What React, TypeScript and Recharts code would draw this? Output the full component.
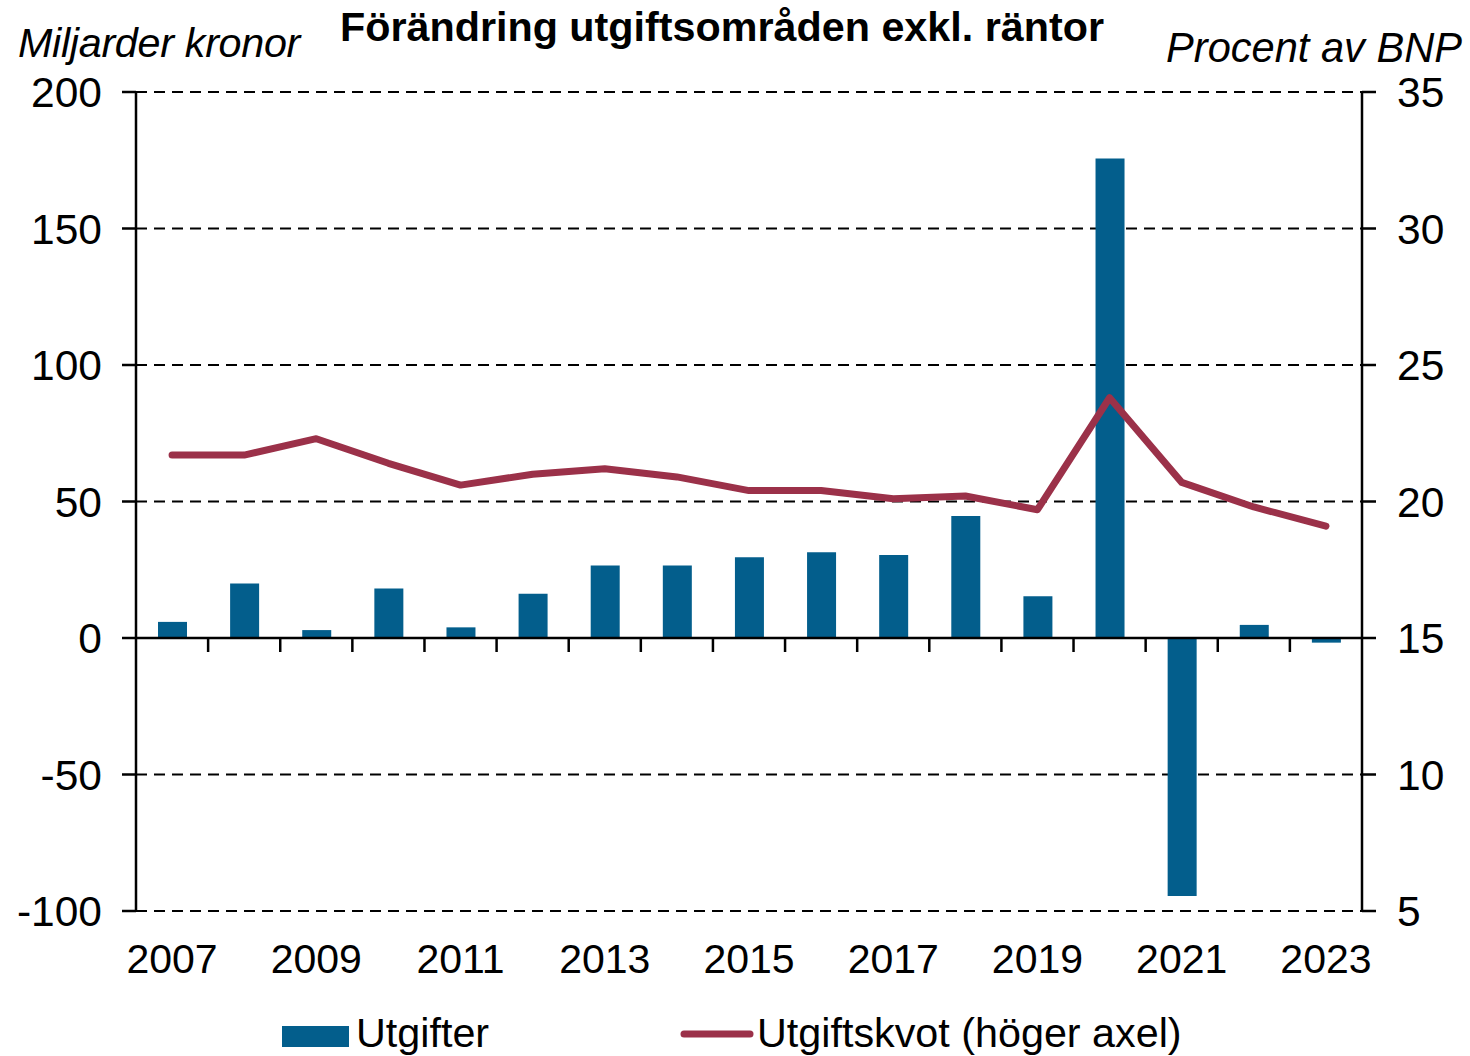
import React from 'react'
import { ComposedChart, Bar, Line, XAxis, YAxis, CartesianGrid, ReferenceLine } from 'recharts'

const years = [
  '2007', '2008', '2009', '2010', '2011', '2012', '2013', '2014', '2015',
  '2016', '2017', '2018', '2019', '2020', '2021', '2022', '2023',
]
// Miljarder kronor (vänster axel)
const utgifter = [5.9, 20.0, 2.9, 18.1, 3.9, 16.2, 26.6, 26.6, 29.6, 31.4, 30.4, 44.7, 15.3, 175.6, -94.5, 4.8, -1.7]
// Procent av BNP (höger axel)
const utgiftskvot = [21.7, 21.7, 22.3, 21.4, 20.6, 21.0, 21.2, 20.9, 20.4, 20.4, 20.1, 20.2, 19.7, 23.8, 20.7, 19.8, 19.1]

const leftTicks = [-100, -50, 0, 50, 100, 150, 200]
const rightTicks = [5, 10, 15, 20, 25, 30, 35]

const BLUE = '#035e8c'
const RED = '#9b3149'
const FONT = '"Liberation Sans", Arial, sans-serif'

const data = years.map((y, i) => ({ year: y, Utgifter: utgifter[i], Utgiftskvot: utgiftskvot[i] }))

// x-axeln ligger vid noll, med streck mellan kategorierna
function ZeroAxis(props: any) {
  const { x1, y1, x2, y2 } = props
  const n = years.length
  const step = (x2 - x1) / n
  const marks = Array.from({ length: n - 1 }, (_, i) => x1 + (i + 1) * step)
  return (
    <g>
      <line x1={x1} y1={y1} x2={x2} y2={y2} stroke="#000" strokeWidth={2.5} />
      {marks.map((x) => (
        <line key={x} x1={x} x2={x} y1={y1} y2={y1 + 14} stroke="#000" strokeWidth={2.5} />
      ))}
    </g>
  )
}

export default function App() {
  const xTick = { fill: '#000', fontSize: 41, fontFamily: FONT }
  const yTick = { fill: '#000', fontSize: 42.5, fontFamily: FONT }
  return (
    <div style={{ position: 'absolute', left: 0, top: 0, width: 1470, height: 1056, background: '#fff', fontFamily: FONT }}>
      <div style={{ position: 'absolute', left: 0, width: 1444, top: 7, textAlign: 'center', fontSize: 41.3, fontWeight: 'bold', lineHeight: 1 }}>
        Förändring utgiftsområden exkl. räntor
      </div>
      <div style={{ position: 'absolute', left: 18, top: 23, fontSize: 41.3, fontStyle: 'italic', lineHeight: 1, letterSpacing: -0.3 }}>
        Miljarder kronor
      </div>
      <div style={{ position: 'absolute', right: 8, top: 27, fontSize: 41.6, fontStyle: 'italic', lineHeight: 1 }}>
        Procent av BNP
      </div>

      <ComposedChart
        width={1470}
        height={1056}
        data={data}
        margin={{ top: 92, right: 8, left: 36, bottom: 85 }}
        barSize={29}
      >
        <CartesianGrid
          yAxisId="left"
          vertical={false}
          stroke="#000"
          strokeWidth={2}
          strokeDasharray="11 7"
        />
        <XAxis
          dataKey="year"
          interval={1}
          axisLine={false}
          tickLine={false}
          tickSize={0}
          tickMargin={33}
          height={60}
          tick={xTick}
        />
        <YAxis
          yAxisId="left"
          orientation="left"
          width={100}
          domain={[-100, 200]}
          ticks={leftTicks}
          tick={yTick}
          axisLine={{ stroke: '#000', strokeWidth: 2.5 }}
          tickLine={{ stroke: '#000', strokeWidth: 2.5 }}
          tickSize={14}
          tickMargin={20}
        />
        <YAxis
          yAxisId="right"
          orientation="right"
          width={100}
          domain={[5, 35]}
          ticks={rightTicks}
          tick={yTick}
          axisLine={{ stroke: '#000', strokeWidth: 2.5 }}
          tickLine={{ stroke: '#000', strokeWidth: 2.5 }}
          tickSize={14}
          tickMargin={21}
        />
        <Bar yAxisId="left" dataKey="Utgifter" fill={BLUE} isAnimationActive={false} />
        <ReferenceLine yAxisId="left" y={0} shape={ZeroAxis} />
        <Line
          yAxisId="right"
          dataKey="Utgiftskvot"
          type="linear"
          stroke={RED}
          strokeWidth={7}
          strokeLinecap="round"
          strokeLinejoin="round"
          dot={false}
          activeDot={false}
          isAnimationActive={false}
        />
      </ComposedChart>

      <div style={{ position: 'absolute', left: 282, top: 1026, width: 67, height: 21, background: BLUE }} />
      <div style={{ position: 'absolute', left: 356, top: 1013, fontSize: 41.3, lineHeight: 1 }}>Utgifter</div>
      <svg style={{ position: 'absolute', left: 678, top: 1024 }} width={80} height={20}>
        <line x1={6} y1={10} x2={72} y2={10} stroke={RED} strokeWidth={7} strokeLinecap="round" />
      </svg>
      <div style={{ position: 'absolute', left: 757, top: 1013, fontSize: 41.3, lineHeight: 1 }}>Utgiftskvot (höger axel)</div>
    </div>
  )
}
